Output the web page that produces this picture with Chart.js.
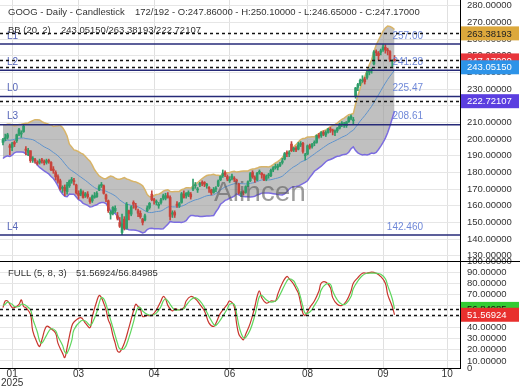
<!DOCTYPE html>
<html><head><meta charset="utf-8">
<script src="https://cdn.jsdelivr.net/npm/chart.js@4.4.1/dist/chart.umd.min.js"></script>
<style>html,body{margin:0;padding:0;background:#fff}canvas{display:block}</style>
</head><body>
<canvas id="c" width="520" height="390"></canvas>
<script>
// GOOG daily, bar 0 .. 171
const opens=[198.0,200.0,201.0,196.0,195.0,198.0,199.0,203.0,203.0,204.5,
194.0,192.0,193.0,188.0,187.5,185.5,186.0,187.5,186.5,186.0,
187.0,186.0,182.0,180.0,177.5,175.0,170.5,171.0,168.5,172.0,
175.0,175.0,172.5,167.5,167.0,168.0,166.0,167.0,164.0,163.0,
165.0,165.5,169.5,172.0,172.0,166.5,163.0,155.0,155.5,157.0,
154.0,150.0,144.0,152.0,146.5,157.0,155.0,162.0,160.0,157.0,
155.5,152.0,151.5,157.0,159.0,167.0,163.5,162.0,160.0,162.0,
164.5,164.5,166.0,165.0,155.0,156.0,161.0,160.0,162.0,167.0,
166.0,166.5,167.0,170.0,172.0,169.5,172.5,174.0,174.0,172.0,
171.0,169.5,168.0,170.0,172.0,175.5,178.0,180.0,177.5,175.0,
176.5,176.5,175.5,173.0,167.0,168.0,168.0,172.0,175.0,180.0,
177.0,175.5,180.0,179.5,178.5,176.0,178.0,178.0,181.5,183.0,
183.0,184.0,186.0,188.0,191.5,191.0,197.0,193.5,194.5,194.0,
196.5,197.5,190.0,191.0,196.0,195.5,197.5,198.0,202.0,202.0,
204.0,202.5,204.0,206.0,205.0,204.0,205.0,206.5,209.0,208.5,
208.0,210.5,212.5,211.0,226.0,231.0,233.0,235.0,236.0,237.0,
240.0,241.0,245.0,252.0,251.5,252.0,253.5,255.0,253.5,252.5,
246.5,247.86];
const highs=[200.5,203.0,203.5,197.0,198.0,199.0,203.0,206.5,205.0,208.7,
195.5,194.5,193.0,189.5,188.5,187.0,188.0,188.5,187.5,188.0,
188.0,186.5,183.5,181.0,178.5,176.0,172.0,172.5,174.0,175.5,
177.0,176.5,173.0,169.0,170.0,169.0,168.0,168.5,165.0,166.5,
168.0,168.5,172.5,174.0,172.5,167.0,163.5,157.0,159.5,160.0,
156.0,153.0,155.0,153.5,162.0,157.5,160.0,163.0,161.5,158.0,
157.0,152.5,155.0,160.0,162.0,169.0,164.5,163.5,162.0,164.5,
167.0,167.5,168.0,166.0,157.0,157.0,162.5,162.0,168.0,169.0,
168.0,169.0,168.0,176.0,174.0,171.0,174.0,175.0,174.5,173.5,
171.5,170.0,171.0,171.5,175.5,178.0,181.5,181.0,178.5,177.5,
179.0,177.5,176.0,173.5,168.5,169.0,172.0,175.0,180.0,181.0,
178.0,180.0,181.5,180.0,179.0,178.5,179.5,182.0,183.5,185.0,
185.0,186.0,188.5,192.0,193.0,193.0,198.5,195.0,195.5,198.0,
198.5,198.0,191.5,196.5,197.0,197.5,199.0,202.5,203.5,204.5,
205.0,205.0,206.5,207.0,206.0,205.5,207.0,209.5,210.5,210.0,
210.5,213.5,214.6,213.0,231.0,233.5,236.0,238.0,237.0,241.0,
242.0,242.5,253.0,253.5,252.5,254.0,256.7,256.5,254.5,253.0,
247.5,250.10];
const lows=[196.5,199.0,200.0,190.5,193.0,195.5,198.0,202.0,201.0,204.0,
190.5,190.0,186.0,186.0,185.5,184.5,185.0,185.5,184.5,185.0,
185.5,181.0,179.5,175.5,173.5,169.5,168.0,166.0,167.0,171.0,
173.5,172.5,167.0,164.0,166.0,164.5,165.0,164.5,161.5,162.0,
164.5,165.0,169.0,171.0,167.0,162.5,156.0,152.0,154.5,156.0,
151.5,147.0,142.7,145.5,146.0,151.5,154.0,158.5,157.5,153.5,
152.5,148.5,151.0,156.5,158.0,163.0,161.0,160.5,158.5,161.0,
163.5,163.5,164.5,151.5,153.0,153.0,159.0,159.0,161.5,164.5,
164.5,165.5,164.0,169.0,170.5,168.0,171.5,172.0,171.5,170.5,
168.0,166.5,167.5,168.5,171.5,175.0,177.0,177.5,175.0,174.0,
175.5,174.5,173.0,167.0,165.5,166.5,167.5,171.5,174.5,176.5,
174.0,175.0,179.0,176.5,175.0,175.0,176.5,177.5,180.5,182.0,
181.5,183.5,185.0,187.5,189.5,189.5,192.5,192.5,192.5,193.5,
195.5,191.5,187.5,190.5,194.0,194.5,196.0,197.5,200.5,201.0,
202.0,201.5,203.5,204.0,202.5,202.0,204.0,206.0,207.5,207.0,
207.0,210.0,211.5,209.0,224.5,229.0,232.0,234.0,233.0,236.0,
238.5,239.5,244.5,250.0,247.5,250.5,252.5,251.5,250.5,246.5,
243.5,246.65];
const closes=[199.6,200.8,202.6,195.0,197.2,197.0,202.6,205.6,203.8,207.7,
193.3,193.3,187.1,188.2,187.1,185.4,186.9,186.9,185.8,187.1,
186.6,181.6,181.2,177.4,174.7,170.2,171.0,169.0,172.6,174.9,
175.8,174.5,167.8,166.2,169.0,165.0,167.2,165.5,162.5,165.8,
166.0,167.5,171.5,172.8,167.5,164.0,157.0,156.2,159.0,158.5,
152.5,147.7,149.0,146.6,160.9,155.4,159.4,160.9,158.7,155.5,
153.4,150.0,154.0,158.7,161.5,163.7,163.1,162.0,160.9,163.6,
166.0,166.0,165.0,153.6,155.8,154.4,160.0,161.3,167.2,165.0,
167.5,168.0,165.3,170.8,172.0,169.6,173.4,173.4,172.9,172.9,
170.4,167.7,169.8,170.0,174.9,177.6,179.5,178.6,176.0,175.8,
177.8,176.0,174.7,167.7,167.2,167.7,171.5,174.4,179.3,177.4,
175.8,179.5,180.6,178.6,175.5,177.6,178.2,181.3,182.8,183.6,
183.9,185.1,186.9,191.3,191.3,191.7,193.1,194.6,193.5,196.5,
197.4,192.6,190.2,196.0,195.0,196.9,197.5,202.1,201.6,203.9,
202.9,203.9,205.9,205.5,204.8,205.0,206.5,208.9,209.2,208.5,
210.2,212.8,213.5,211.6,230.7,232.7,235.2,235.2,234.4,239.6,
240.8,241.4,252.3,251.8,250.0,253.0,255.2,253.4,252.9,247.8,
246.6,247.17];
// the 19 closes before the first visible bar (only feed the BB window)
const warmupCloses=[191.0,194.5,197.5,192.0,190.0,195.5,199.5,203.0,205.5,200.5,196.5,191.5,194.0,200.0,205.5,202.0,207.0,203.5,201.0];

// FULL stochastic (5,8,3): %K red, %D green
const stochBars=[0,1,2,4,5,7,8,9,10,12,13,15,16,17,19,21,23,24,26,27,28,30,31,34,36,38,39,41,42,43,44,45,46,47,48,49,50,51,53,55,57,58,59,60,61,63,65,67,69,70,71,72,74,75,77,79,80,82,84,86,88,90,92,93,95,98,99,101,102,103,104,105,106,108,110,111,112,113,115,117,119,120,122,124,125,127,128,129,130,131,132,134,136,138,139,141,143,144,146,148,150,152,153,155,157,159,161,163,165,167,168,170,171];
const stochK=[58,64,64,58,58,61,65,59,58,52,37,26,23,29,41,39,35,26,17,13,22,41,45,49,44,40,50,64,69,67,62,56,47,42,33,26,19,18,26,40,55,61,59,57,50,51,51,56,64,68,66,60,55,57,56,58,64,68,66,61,55,44,41,44,53,61,64,59,44,34,31,29,34,44,59,68,73,67,62,64,64,70,80,86,84,79,75,71,62,53,51,58,64,73,80,81,76,67,61,60,64,73,80,85,89,89,90,89,86,80,70,59,51.56924];
const stochD=[60,61,63,61,59,59,61,61,60,56,48,36,28,26,33,39,37,32,24,18,17,28,38,46,46,42,44,54,62,67,66,61,54,47,40,33,26,21,21,31,45,53,58,58,55,52,51,53,59,64,66,64,58,56,56,57,60,65,67,64,58,50,43,42,47,57,61,61,53,42,35,31,31,38,51,60,68,69,65,63,64,66,74,82,84,82,78,74,67,59,53,54,60,67,74,79,79,73,65,61,62,68,75,82,87,89,89,89,88,84,78,66,56.84985];

const monthTicks=[4,33,66,99,133,166,194];
const monthLabels=['01','03','04','06','08','09','10'];
const levelNames=['L1','L2','L0','L3','L4'];
const levelValues=[257.00,241.28,225.47,208.61,142.46];
const levelTexts=['257.00','241.28','225.47','208.61','142.460'];
const bbLast=[243.05150,263.38193,222.72107]; // mid/upper/lower
const stochLast=[51.56924,56.84985]; // K/D

const F='"Liberation Sans", Arial, sans-serif';
const FS=9.5;
const UP='#2f9d6a', DN='#c8443c';

const all=warmupCloses.concat(closes);
const bbUp=[],bbMid=[],bbLow=[];
closes.forEach((c,i)=>{
  const w=all.slice(i,i+20), m=w.reduce((s,v)=>s+v,0)/20;
  const sd=Math.sqrt(w.reduce((s,v)=>s+(v-m)*(v-m),0)/20);
  bbMid.push({x:i,y:m}); bbUp.push({x:i,y:m+2*sd}); bbLow.push({x:i,y:m-2*sd});
});
const col=closes.map((c,i)=>c>=opens[i]?UP:DN);

const deco={id:'deco',
  afterDatasetsDraw(ch){
    const {ctx,chartArea:a,scales:{y,y2}}=ch;
    ctx.save();
    ctx.font='28px '+F; ctx.fillStyle='rgba(90,90,90,0.6)'; ctx.textAlign='center'; ctx.textBaseline='middle';
    ctx.fillText('Alincen',260,193);
    ctx.font='10px '+F; ctx.textBaseline='bottom';
    levelValues.forEach((v,k)=>{
      const py=y.getPixelForValue(v);
      ctx.strokeStyle='#262a78'; ctx.lineWidth=1.5; ctx.beginPath(); ctx.moveTo(a.left,py); ctx.lineTo(a.right,py); ctx.stroke();
      ctx.textAlign='left'; ctx.fillStyle='#5565b8'; ctx.fillText(levelNames[k],7,py-3);
      ctx.textAlign='right'; ctx.fillStyle='#6f88d8'; ctx.fillText(levelTexts[k],423,py-3);
    });
    ctx.setLineDash([3,3]); ctx.strokeStyle='#111'; ctx.lineWidth=1.5;
    [[y,bbLast[1]],[y,closes[closes.length-1]],[y,bbLast[0]],[y,bbLast[2]],[y2,stochLast[1]],[y2,stochLast[0]]].forEach(([s,v])=>{
      const py=Math.round(s.getPixelForValue(v))+0.5;
      ctx.beginPath(); ctx.moveTo(a.left,py); ctx.lineTo(a.right,py); ctx.stroke();
    });
    ctx.restore();
  },
  afterDraw(ch){
    const {ctx,chartArea:a,scales:{y,y2}}=ch;
    ctx.save();
    ctx.strokeStyle='#000'; ctx.lineWidth=1; ctx.beginPath(); ctx.moveTo(0,y2.top+0.5); ctx.lineTo(520,y2.top+0.5); ctx.stroke();
    ctx.font=FS+'px '+F; ctx.textBaseline='middle'; ctx.textAlign='left';
    const box=(s,v,bg,fg)=>{const py=s.getPixelForValue(v); ctx.fillStyle=bg; ctx.fillRect(a.right+1,py-7,58,14); ctx.fillStyle=fg; ctx.fillText(v.toFixed(5),a.right+7,py+0.5);};
    box(y,bbLast[1],'#dca83c','#222');
    box(y,closes[closes.length-1],'#e8363c','#fff');
    box(y,bbLast[0],'#2d93e8','#fff');
    box(y,bbLast[2],'#5b3fe0','#fff');
    box(y2,stochLast[1],'#33cc33','#111');
    box(y2,stochLast[0],'#e8302e','#fff');
    ctx.fillStyle='#333';
    ctx.fillText('GOOG - Daily - Candlestick',8,12);
    ctx.fillText('172/192 - O:247.86000 - H:250.10000 - L:246.65000 - C:247.17000',135,12);
    ctx.fillText('BB (20, 2)',8,30); ctx.fillText('243.05150/263.38193/222.72107',61,30);
    ctx.fillText('FULL (5, 8, 3)',8,273); ctx.fillText('51.56924/56.84985',76,273);
    ctx.restore();
  }
};

const tickFont={family:F,size:FS};
const noPad=s=>{s.paddingTop=0;s.paddingBottom=0;s.paddingLeft=0;s.paddingRight=0;};
new Chart(document.getElementById('c'),{
  type:'bar',
  data:{datasets:[
    {type:'bar',data:closes.map((c,i)=>({x:i,y:[opens[i],c]})),backgroundColor:col,barThickness:2,minBarLength:1,grouped:false,order:0},
    {type:'bar',data:closes.map((c,i)=>({x:i,y:[lows[i],highs[i]]})),backgroundColor:col,barThickness:1,grouped:false,order:1},
    {type:'line',data:bbMid,borderColor:'#5f93cc',borderWidth:1,pointRadius:0,order:2},
    {type:'line',data:bbUp,borderColor:'#d8b468',borderWidth:1.5,pointRadius:0,order:3},
    {type:'line',data:bbLow,borderColor:'#7b6ce0',borderWidth:1.5,pointRadius:0,fill:'-1',backgroundColor:'rgba(150,150,150,0.6)',order:4},
    {type:'line',yAxisID:'y2',data:stochBars.map((b,i)=>({x:b,y:stochD[i]})),borderColor:'#5ed65e',borderWidth:1.2,pointRadius:0,tension:0.4,order:0},
    {type:'line',yAxisID:'y2',data:stochBars.map((b,i)=>({x:b,y:stochK[i]})),borderColor:'#c8362e',borderWidth:1.2,pointRadius:0,tension:0.4,order:0}
  ]},
  options:{
    responsive:false,animation:false,devicePixelRatio:1,
    layout:{padding:0},
    plugins:{legend:{display:false},tooltip:{enabled:false}},
    scales:{
      x:{type:'linear',min:-1.3,max:199.6,offset:false,
        afterBuildTicks:s=>{s.ticks=monthTicks.map(v=>({value:v}));},
        afterFit:s=>{s.height=22;noPad(s);},
        ticks:{autoSkip:false,maxRotation:0,padding:2,color:'#333',font:{family:F,size:10,lineHeight:0.85},
          callback:v=>{const k=monthTicks.indexOf(v);return k===0?[monthLabels[0],'2025']:monthLabels[k];}},
        grid:{color:'#e0e0e0',drawTicks:false,offset:false},border:{color:'#000'}},
      y:{position:'right',stack:'p',stackWeight:261,min:126.9,max:283.4,
        afterFit:s=>{s.width=60;noPad(s);},
        ticks:{stepSize:10,includeBounds:false,autoSkip:false,padding:7,color:'#333',font:tickFont,callback:v=>v.toFixed(5)},
        grid:{color:'#e6e6e6',drawTicks:false},border:{color:'#000'}},
      y2:{position:'right',stack:'p',stackWeight:107,min:3.6,max:100,
        afterFit:s=>{s.width=60;noPad(s);},
        afterBuildTicks:s=>{s.ticks.unshift({value:3.6});},
        ticks:{stepSize:10,includeBounds:false,autoSkip:false,padding:7,color:'#333',font:tickFont,callback:v=>v<5?'0':v.toFixed(5)},
        grid:{color:'#e6e6e6',drawTicks:false},border:{color:'#000'}}
    }
  },
  plugins:[deco]
});
</script>
</body></html>
